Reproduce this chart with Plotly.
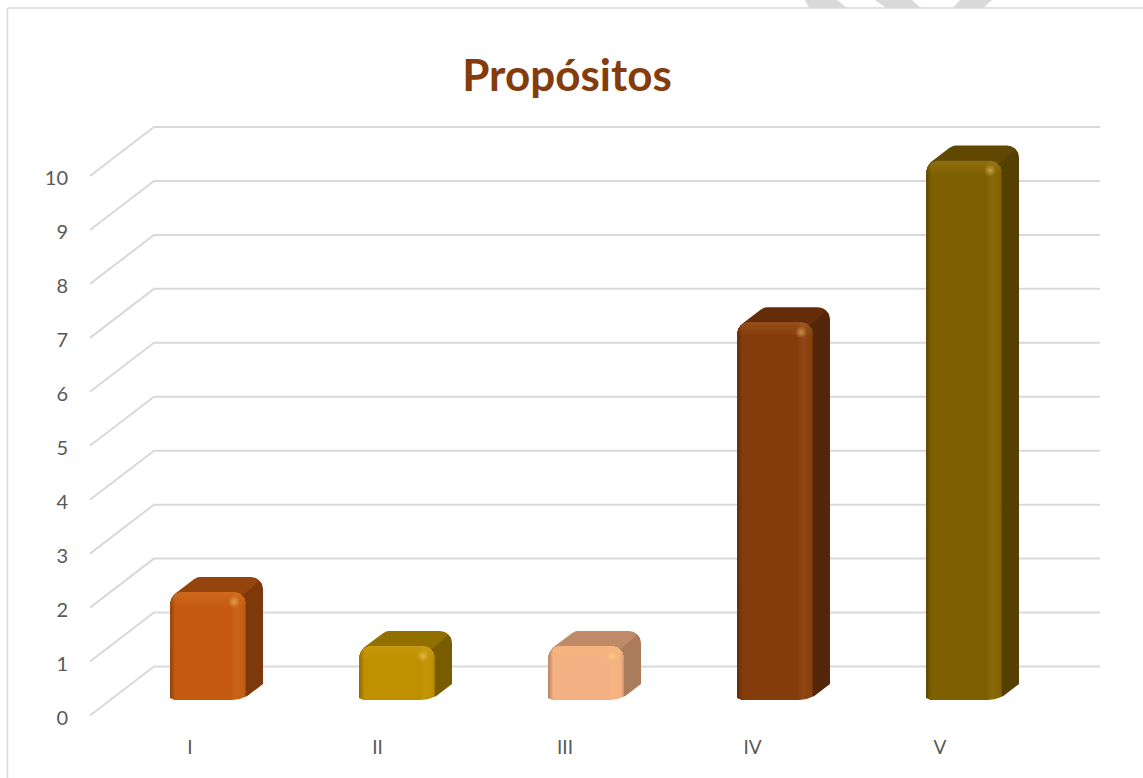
import numpy as np
import plotly.graph_objects as go

# ---- data ----
categories = ["I", "II", "III", "IV", "V"]
values = [2, 1, 1, 7, 10]
grid_values = list(range(0, 11))

# ---- style ----
front_colors = ["#C55A11", "#BF9000", "#F4B183", "#843C0C", "#7F6000"]
top_colors = ["#96440D", "#917000", "#BE8A68", "#642D09", "#604800"]
side_colors = ["#7E390B", "#7A5C00", "#AB7C5C", "#55270A", "#544000"]
GRID = "#D9D9D9"
TEXT = "#595959"
TITLE = "#843C0C"
FONT = "Lato"

W, H = 1143, 778
ML, MR, MT, MB = 72, 0, 100, 46
PLOT_B = H - MB
SY = 53.95          # pixels per unit value
SX_MARK = 189.0     # pixels per category, bars
SX_LAB = 187.5      # pixels per category, labels and walls
X0_LAB, Y0_LAB = 190.0, 715.5
X0_MARK, Y0_MARK = 208.0, 700.0
WALL_DX, WALL_DY = 64.0, 49.0
WALL_LEFT, WALL_RIGHT = 90.0, 1100.0
HW, DX, DY, R = 38.0, 17.0, 15.0, 12.0


def arc(cx, cy, r, a0, a1, n=8):
    t = np.radians(np.linspace(a0, a1, n))
    return list(cx + r * np.cos(t)), list(cy + r * np.sin(t))


def outline(parts):
    xs, ys = [], []
    for p in parts:
        xs += list(p[0])
        ys += list(p[1])
    return np.array(xs), np.array(ys)


fig = go.Figure()

# gridlines: front edge up to back wall, on the axes that carry the labels
xl = (WALL_LEFT - X0_LAB) / SX_LAB
xc = (WALL_LEFT + WALL_DX - X0_LAB) / SX_LAB
xr = (WALL_RIGHT - X0_LAB) / SX_LAB
rise = WALL_DY / SY
for g in grid_values:
    fig.add_trace(go.Scatter(
        x=[xl, xc, xr], y=[g, g + rise, g + rise], mode="lines",
        line=dict(color=GRID, width=2), hoverinfo="skip", showlegend=False,
        xaxis="x", yaxis="y"))

# depth faces
for i, (v, tc, sc) in enumerate(zip(values, top_colors, side_colors)):
    h = v * SY
    # side face (offsets in pixels from bar centre / zero line)
    sx, sy = outline([
        ([HW - 6], [h - 4]),
        ([HW + DX - 10], [h + DY - 7]),
        arc(HW + DX - 12, h + DY - 12, 12, 50, 0),
        ([HW + DX], [DY + 1]),
        ([HW], [3]),
        ([HW - 6], [3]),
    ])
    fig.add_trace(go.Scatter(
        x=i + sx / SX_MARK, y=sy / SY, mode="lines", fill="toself",
        fillcolor=sc, line=dict(width=0, color=sc), hoverinfo="skip",
        showlegend=False, xaxis="x2", yaxis="y2"))
    # top face
    tx, ty = outline([
        ([-HW + 1], [h - 10]),
        arc(-HW + 12, h - 10, 11, 180, 130),
        arc(-HW + 30, h + DY - 10, 10, 130, 90),
        arc(HW + DX - 12, h + DY - 12, 12, 90, 45),
        ([HW - 6], [h - 6]),
    ])
    fig.add_trace(go.Scatter(
        x=i + tx / SX_MARK, y=ty / SY, mode="lines", fill="toself",
        fillcolor=tc, line=dict(width=0, color=tc), hoverinfo="skip",
        showlegend=False, xaxis="x2", yaxis="y2"))

# front faces
fig.add_trace(go.Bar(
    x=list(range(len(values))), y=values, width=2 * HW / SX_MARK,
    marker=dict(color=front_colors, line=dict(width=0), cornerradius=R),
    hovertext=categories, hoverinfo="text+y", showlegend=False,
    xaxis="x3", yaxis="y3"))

# sheen over the front faces
for i, v in enumerate(values):
    h = v * SY
    fx, fy = outline([
        ([-HW], [0]),
        arc(-HW + R, h - R, R, 180, 90),
        arc(HW - R, h - R, R, 90, 0),
        ([HW], [0]),
    ])
    fig.add_trace(go.Scatter(
        x=i + fx / SX_MARK, y=fy / SY, mode="lines", fill="toself",
        fillgradient=dict(type="horizontal", colorscale=[
            [0.0, "rgba(0,0,0,0.28)"], [0.07, "rgba(0,0,0,0)"],
            [0.10, "rgba(255,255,255,0)"], [0.80, "rgba(255,255,255,0)"],
            [0.88, "rgba(255,200,90,0.09)"], [0.95, "rgba(255,200,90,0.03)"],
            [1.0, "rgba(0,0,0,0.18)"]]),
        line=dict(width=0), hoverinfo="skip", showlegend=False,
        xaxis="x3", yaxis="y3"))
    # top band
    bx, by = outline([
        arc(-HW + R, h - R, R, 180, 90),
        arc(HW - R, h - R, R, 90, 0),
        ([HW], [h - 14]),
        ([-HW], [h - 14]),
    ])
    fig.add_trace(go.Scatter(
        x=i + bx / SX_MARK, y=by / SY, mode="lines", fill="toself",
        fillgradient=dict(type="vertical", colorscale=[
            [0.0, "rgba(255,200,90,0)"], [1.0, "rgba(255,200,90,0.14)"]]),
        line=dict(width=0), hoverinfo="skip", showlegend=False,
        xaxis="x3", yaxis="y3"))
    # corner glint
    fig.add_trace(go.Scatter(
        x=[i + (HW - 12) / SX_MARK], y=[(h - 10) / SY], mode="markers",
        marker=dict(size=12, color="rgba(255,215,120,0)",
                    gradient=dict(type="radial", color="rgba(255,215,120,0.5)"),
                    line=dict(width=0)),
        hoverinfo="skip", showlegend=False, xaxis="x3", yaxis="y3"))
    # rounded foot of the front face
    wx, wy = outline([
        ([HW + 1], [-1]),
        ([HW + 1], [3.6]),
        arc(HW - 14, 30, 30, -62, -90, 8),
        ([HW - 14], [-1]),
    ])
    fig.add_trace(go.Scatter(
        x=i + wx / SX_MARK, y=wy / SY, mode="lines", fill="toself",
        fillcolor="white", line=dict(width=0, color="white"), hoverinfo="skip",
        showlegend=False, xaxis="x3", yaxis="y3"))
    lx, ly = outline([([-HW - 1, -HW - 1, -HW, -HW + 4, -HW + 4],
                       [-1, 2.5, 2, 0.3, -1])])
    fig.add_trace(go.Scatter(
        x=i + lx / SX_MARK, y=ly / SY, mode="lines", fill="toself",
        fillcolor="white", line=dict(width=0, color="white"), hoverinfo="skip",
        showlegend=False, xaxis="x3", yaxis="y3"))


def pxx(p):
    return (p - ML) / (W - ML - MR)


def pxy(p):
    return 1 - (p - MT) / (H - MT - MB)


shapes = []
# page furniture: chart frame and the watermark stripes above it
for poly in ([(805, 0), (837, 0), (847, 8), (809, 8)],
             [(875, 0), (912, 0), (921, 8), (886, 8)],
             [(960, 0), (992, 0), (983, 8), (953, 8)]):
    path = "M " + " L ".join(f"{pxx(a):.5f} {pxy(b):.5f}" for a, b in poly) + " Z"
    shapes.append(dict(type="path", path=path, xref="paper", yref="paper",
                       fillcolor=GRID, line=dict(width=0), layer="below"))
shapes.append(dict(type="line", xref="paper", yref="paper",
                   x0=pxx(7.5), x1=pxx(1143), y0=pxy(8), y1=pxy(8),
                   line=dict(color=GRID, width=1.5), layer="below"))
shapes.append(dict(type="line", xref="paper", yref="paper",
                   x0=pxx(7.5), x1=pxx(7.5), y0=pxy(8), y1=pxy(778),
                   line=dict(color=GRID, width=1.5), layer="below"))

yr_lab = [(Y0_LAB - PLOT_B) / SY, (Y0_LAB - MT) / SY]
xr_lab = [(ML - X0_LAB) / SX_LAB, (W - MR - X0_LAB) / SX_LAB]
yr_mark = [(Y0_MARK - PLOT_B) / SY, (Y0_MARK - MT) / SY]
xr_mark = [(ML - X0_MARK) / SX_MARK, (W - MR - X0_MARK) / SX_MARK]

hidden = dict(visible=False, showgrid=False, zeroline=False)

fig.update_layout(
    width=W, height=H, autosize=False,
    margin=dict(l=ML, r=MR, t=MT, b=MB, pad=0),
    paper_bgcolor="white", plot_bgcolor="white",
    font=dict(family=FONT, color=TEXT),
    shapes=shapes, showlegend=False, bargap=0,
    title=dict(text="<b>Propósitos</b>", x=567 / W, y=1 - 76 / H,
               xref="container", yref="container",
               xanchor="center", yanchor="middle",
               font=dict(family=FONT, size=44, color=TITLE)),
    xaxis=dict(range=xr_lab, tickmode="array",
               tickvals=list(range(len(categories))), ticktext=categories,
               showgrid=False, zeroline=False, showline=False, ticks="",
               ticklabelstandoff=2,
               tickfont=dict(family=FONT, size=19, color=TEXT)),
    yaxis=dict(range=yr_lab, tickmode="array", tickvals=grid_values,
               showgrid=False, zeroline=False, showline=False, ticks="",
               ticklabelstandoff=3, ticklabelshift=2,
               tickfont=dict(family=FONT, size=20, color=TEXT)),
    xaxis2=dict(range=xr_mark, overlaying="x", **hidden),
    yaxis2=dict(range=yr_mark, overlaying="y", **hidden),
    xaxis3=dict(range=xr_mark, overlaying="x", **hidden),
    yaxis3=dict(range=yr_mark, overlaying="y", **hidden),
)

fig.write_html("out.html", config=dict(displayModeBar=False),
               post_script="document.body.style.margin='0';document.body.style.overflow='hidden';")
